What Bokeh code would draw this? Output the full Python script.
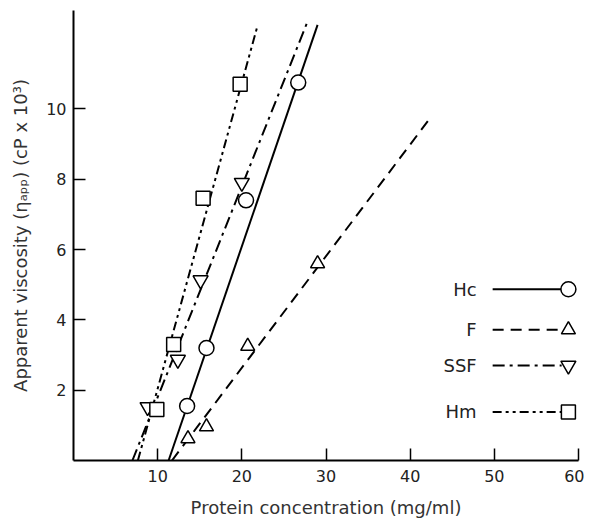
from bokeh.plotting import figure
from bokeh.embed import file_html
from bokeh.resources import INLINE
from bokeh.models import FixedTicker, Range1d
from bokeh.core.properties import value

# ---- data ----
hc_x = [13.5, 15.8, 20.5, 26.7]
hc_y = [1.55, 3.2, 7.4, 10.75]
f_x = [13.6, 15.8, 20.7, 29.0]
f_y = [0.62, 0.96, 3.25, 5.6]
ssf_x = [8.8, 12.4, 15.1, 20.0]
ssf_y = [1.52, 2.87, 5.13, 7.9]
hm_x = [9.9, 11.9, 15.4, 19.8]
hm_y = [1.45, 3.3, 7.46, 10.7]

# fitted straight lines: x-intercept, slope, x end
series_names = ["Hc", "F", "SSF", "Hm"]
fit_x0 = [11.3, 11.7, 7.0, 7.65]
fit_slope = [0.70, 0.3176, 0.60, 0.87]
fit_x1 = [29.0, 42.4, 27.7, 21.8]

x_ticks = [10, 20, 30, 40, 50, 60]
y_ticks = [2, 4, 6, 8, 10]

FONT = "DejaVu Sans"
W, H = 584, 520

p = figure(width=W, height=H, output_backend="svg", toolbar_location=None,
           x_range=Range1d(0, 60), y_range=Range1d(0, 12.8),
           min_border_left=73, min_border_right=6, min_border_top=10, min_border_bottom=56)
p.outline_line_color = None
p.grid.visible = False
p.background_fill_color = "white"
p.border_fill_color = "white"

for ax in (p.xaxis[0], p.yaxis[0]):
    ax.axis_line_width = 2
    ax.axis_line_color = "black"
    ax.major_tick_in = 12
    ax.major_tick_out = 0
    ax.major_tick_line_width = 1.5
    ax.minor_tick_line_color = None
    ax.major_label_text_font = FONT
    ax.major_label_text_font_size = "16px"
    ax.major_label_text_color = "#222222"
    ax.axis_label_text_font = FONT
    ax.axis_label_text_font_size = "18px"
    ax.axis_label_text_font_style = "normal"
    ax.axis_label_text_color = "#333333"

p.xaxis[0].ticker = FixedTicker(ticks=x_ticks)
p.yaxis[0].ticker = FixedTicker(ticks=y_ticks)
p.xaxis[0].axis_label = "Protein concentration (mg/ml)"
p.yaxis[0].axis_label = "Apparent viscosity (\u03b7\u2090\u209a\u209a) (cP x 10\u00b3)"
p.xaxis[0].major_label_standoff = 9
p.yaxis[0].major_label_standoff = 7
p.xaxis[0].axis_label_standoff = 12
p.yaxis[0].axis_label_standoff = 12

dashes = ["solid", "11 7", "12 5 3 5", "9 4 3 4 3 4"]
xs_all = [hc_x, f_x, ssf_x, hm_x]
ys_all = [hc_y, f_y, ssf_y, hm_y]
markers = ["circle", "triangle", "inverted_triangle", "square"]
msize = [15, 14, 15, 14]

for i in range(4):
    x0, s, x1 = fit_x0[i], fit_slope[i], fit_x1[i]
    p.line([x0, x1], [0, s * (x1 - x0)], line_color="black", line_width=2,
           line_dash=dashes[i])
    p.scatter(xs_all[i], ys_all[i], marker=markers[i], size=msize[i],
              fill_color="white", line_color="black", line_width=1.5)

# ---- hand-drawn style legend ----
leg_y = [4.87, 3.72, 2.70, 1.38]
leg_text_x = 47.9
leg_line = (49.8, 58.0)
leg_mark_x = 58.8
for i in range(4):
    p.line([leg_line[0], leg_line[1]], [leg_y[i], leg_y[i]], line_color="black",
           line_width=2, line_dash=dashes[i])
    p.scatter([leg_mark_x], [leg_y[i]], marker=markers[i], size=msize[i],
              fill_color="white", line_color="black", line_width=1.5)
p.text(x=[leg_text_x] * 4, y=leg_y, text=series_names, text_align="right",
       text_baseline="middle", text_font=value(FONT), text_font_size="18px",
       text_color="#222222")

open("out.html", "w").write(file_html(p, INLINE))
